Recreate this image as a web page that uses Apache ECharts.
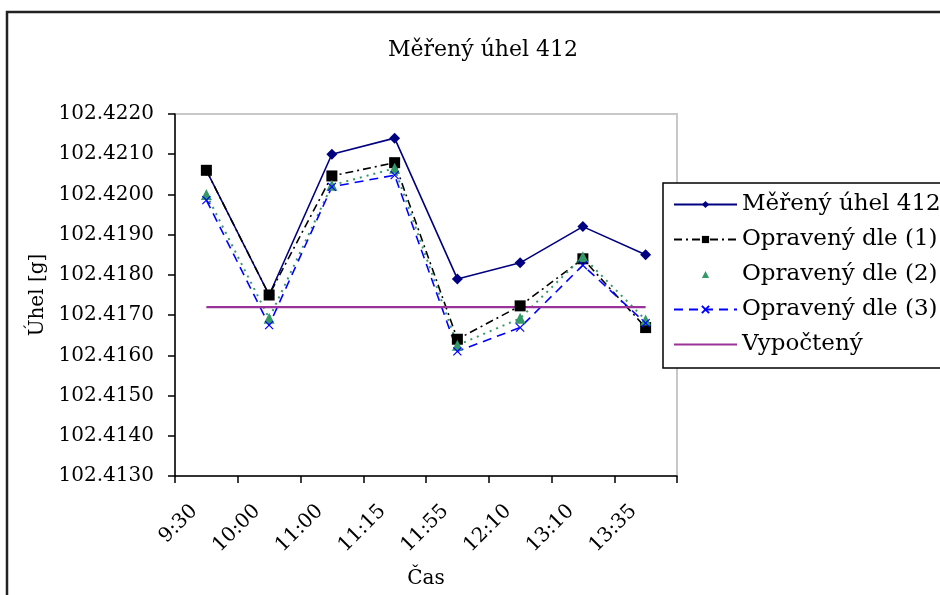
<!DOCTYPE html>
<html>
<head>
<meta charset="utf-8">
<script src="https://cdn.jsdelivr.net/npm/echarts@6/dist/echarts.min.js"></script>
<style>
  html, body { margin: 0; padding: 0; background: #fff; }
  #chart { width: 940px; height: 595px; }
</style>
</head>
<body>
<div id="chart"></div>
<script>
// Times of measurement
const casy = ['9:30', '10:00', '11:00', '11:15', '11:55', '12:10', '13:10', '13:35'];
// Measured angle and its corrected variants [g]
const mereny = [102.4206, 102.4175, 102.4210, 102.4214, 102.4179, 102.4183, 102.4192, 102.4185];
const opraveny1 = [102.4206, 102.4175, 102.42046, 102.42079, 102.4164, 102.41723, 102.4184, 102.41669];
const opraveny2 = [102.4200, 102.41692, 102.42023, 102.42065, 102.41625, 102.41692, 102.41845, 102.41688];
const opraveny3 = [102.41986, 102.41675, 102.42019, 102.42048, 102.4161, 102.41669, 102.41824, 102.4168];
// Computed angle (constant reference value)
const vypocteny = [102.4172, 102.4172, 102.4172, 102.4172, 102.4172, 102.4172, 102.4172, 102.4172];
// Vertical axis range
const yMin = 102.4130, yMax = 102.4220, yStep = 0.0010;

const FONT = 'DejaVu Serif';
const chart = echarts.init(document.getElementById('chart'), null, { renderer: 'canvas' });

const crossPath = 'path://M0,0L10,10M10,0L0,10';

chart.setOption({
  backgroundColor: '#ffffff',
  animation: false,
  title: {
    text: 'Měřený úhel 412',
    left: 478,
    top: 34,
    textAlign: 'center',
    textStyle: { fontFamily: FONT, fontSize: 22, fontWeight: 'normal', color: '#000' }
  },
  grid: {
    left: 175, top: 114, right: 263, bottom: 119,
    outerBoundsMode: 'none',
    containLabel: false,
    show: true, borderColor: '#c8c8c8', borderWidth: 2, backgroundColor: '#fff'
  },
  legend: {
    orient: 'vertical',
    left: 663, top: 183,
    padding: [10, 12, 12, 10],
    itemWidth: 63, itemHeight: 9, itemGap: 12,
    backgroundColor: '#fff',
    borderColor: '#000', borderWidth: 1.5,
    textStyle: { fontFamily: FONT, fontSize: 23, color: '#000' },
    data: [
      { name: 'Měřený úhel 412' },
      { name: 'Opravený dle (1)' },
      { name: 'Opravený dle (2)', lineStyle: { opacity: 0 } },
      { name: 'Opravený dle (3)' },
      { name: 'Vypočtený', itemStyle: { opacity: 0 } }
    ]
  },
  xAxis: {
    type: 'category',
    data: casy,
    boundaryGap: true,
    name: 'Čas',
    nameLocation: 'middle',
    nameGap: 93,
    nameTextStyle: { fontFamily: FONT, fontSize: 20, color: '#000' },
    axisLine: { lineStyle: { color: '#000', width: 1.5 } },
    axisTick: { show: true, length: 7, lineStyle: { color: '#000', width: 1.5 } },
    axisLabel: {
      rotate: 45, margin: 20, padding: [0, 17, 0, 0],
      fontFamily: FONT, fontSize: 20, color: '#000'
    },
    splitLine: { show: false }
  },
  yAxis: {
    type: 'value',
    min: yMin, max: yMax, interval: yStep,
    name: 'Úhel [g]',
    nameLocation: 'middle',
    nameGap: 127,
    nameTextStyle: { fontFamily: FONT, fontSize: 20, color: '#000' },
    axisLine: { show: true, lineStyle: { color: '#000', width: 1.5 } },
    axisTick: { show: true, length: 7, lineStyle: { color: '#000', width: 1.5 } },
    axisLabel: {
      margin: 21, fontFamily: FONT, fontSize: 20, color: '#000',
      formatter: v => v.toFixed(4)
    },
    splitLine: { show: false }
  },
  series: [
    {
      name: 'Měřený úhel 412', type: 'line', data: mereny,
      symbol: 'diamond', symbolSize: 11,
      lineStyle: { color: '#000080', width: 1.6 },
      itemStyle: { color: '#000080' }
    },
    {
      name: 'Opravený dle (1)', type: 'line', data: opraveny1,
      symbol: 'rect', symbolSize: 11,
      lineStyle: { color: '#000', width: 1.6, type: [8, 4, 2, 4] },
      itemStyle: { color: '#000' }
    },
    {
      name: 'Opravený dle (2)', type: 'line', data: opraveny2,
      symbol: 'triangle', symbolSize: 11,
      lineStyle: { color: '#339966', width: 2, type: [2, 5] },
      itemStyle: { color: '#339966' }
    },
    {
      name: 'Opravený dle (3)', type: 'line', data: opraveny3,
      symbol: crossPath, symbolSize: 8,
      lineStyle: { color: '#0000ff', width: 1.6, type: [9, 6] },
      itemStyle: { color: '#0000ff', borderColor: '#0000ff', borderWidth: 1.2 }
    },
    {
      name: 'Vypočtený', type: 'line', data: vypocteny,
      symbol: 'none',
      lineStyle: { color: '#993399', width: 2.2 },
      itemStyle: { color: '#993399' }
    }
  ],
  graphic: [
    {
      type: 'polyline',
      shape: { points: [[7, 600], [7, 12], [945, 12]] },
      style: { stroke: '#222', lineWidth: 2.5, fill: null },
      z: 100
    }
  ]
});
</script>
</body>
</html>
